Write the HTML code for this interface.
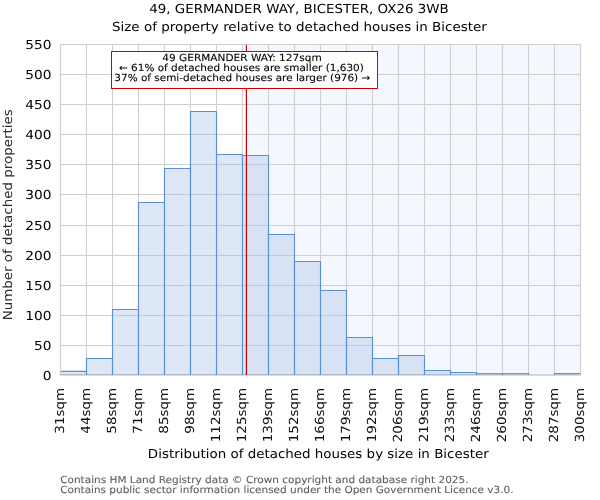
<!DOCTYPE html>
<html><head><meta charset="utf-8"><title>Size of property relative to detached houses in Bicester</title>
<style>html,body{margin:0;padding:0;background:#fff;width:600px;height:500px;overflow:hidden;}
svg text{font-kerning:normal;text-rendering:geometricPrecision;}</style></head>
<body>
<svg width="600" height="500" viewBox="0 0 600 500" style="position:absolute;left:0;top:0">
<rect x="0" y="0" width="600" height="500" fill="#ffffff"/>
<rect x="246.4" y="44.5" width="334.1" height="330.5" fill="#f4f8fe"/>
<line x1="60.5" y1="44.5" x2="580.5" y2="44.5" stroke="#cfcfcf" stroke-width="1.1"/>
<line x1="60.5" y1="74.5" x2="580.5" y2="74.5" stroke="#cfcfcf" stroke-width="1.1"/>
<line x1="60.5" y1="104.5" x2="580.5" y2="104.5" stroke="#cfcfcf" stroke-width="1.1"/>
<line x1="60.5" y1="134.5" x2="580.5" y2="134.5" stroke="#cfcfcf" stroke-width="1.1"/>
<line x1="60.5" y1="164.5" x2="580.5" y2="164.5" stroke="#cfcfcf" stroke-width="1.1"/>
<line x1="60.5" y1="194.5" x2="580.5" y2="194.5" stroke="#cfcfcf" stroke-width="1.1"/>
<line x1="60.5" y1="225.5" x2="580.5" y2="225.5" stroke="#cfcfcf" stroke-width="1.1"/>
<line x1="60.5" y1="255.5" x2="580.5" y2="255.5" stroke="#cfcfcf" stroke-width="1.1"/>
<line x1="60.5" y1="285.5" x2="580.5" y2="285.5" stroke="#cfcfcf" stroke-width="1.1"/>
<line x1="60.5" y1="315.5" x2="580.5" y2="315.5" stroke="#cfcfcf" stroke-width="1.1"/>
<line x1="60.5" y1="345.5" x2="580.5" y2="345.5" stroke="#cfcfcf" stroke-width="1.1"/>
<line x1="60.5" y1="44.5" x2="60.5" y2="375.0" stroke="#cfcfcf" stroke-width="1.1"/>
<line x1="86.5" y1="44.5" x2="86.5" y2="375.0" stroke="#cfcfcf" stroke-width="1.1"/>
<line x1="112.5" y1="44.5" x2="112.5" y2="375.0" stroke="#cfcfcf" stroke-width="1.1"/>
<line x1="138.5" y1="44.5" x2="138.5" y2="375.0" stroke="#cfcfcf" stroke-width="1.1"/>
<line x1="164.5" y1="44.5" x2="164.5" y2="375.0" stroke="#cfcfcf" stroke-width="1.1"/>
<line x1="190.5" y1="44.5" x2="190.5" y2="375.0" stroke="#cfcfcf" stroke-width="1.1"/>
<line x1="216.5" y1="44.5" x2="216.5" y2="375.0" stroke="#cfcfcf" stroke-width="1.1"/>
<line x1="242.5" y1="44.5" x2="242.5" y2="375.0" stroke="#cfcfcf" stroke-width="1.1"/>
<line x1="268.5" y1="44.5" x2="268.5" y2="375.0" stroke="#cfcfcf" stroke-width="1.1"/>
<line x1="294.5" y1="44.5" x2="294.5" y2="375.0" stroke="#cfcfcf" stroke-width="1.1"/>
<line x1="320.5" y1="44.5" x2="320.5" y2="375.0" stroke="#cfcfcf" stroke-width="1.1"/>
<line x1="346.5" y1="44.5" x2="346.5" y2="375.0" stroke="#cfcfcf" stroke-width="1.1"/>
<line x1="372.5" y1="44.5" x2="372.5" y2="375.0" stroke="#cfcfcf" stroke-width="1.1"/>
<line x1="398.5" y1="44.5" x2="398.5" y2="375.0" stroke="#cfcfcf" stroke-width="1.1"/>
<line x1="424.5" y1="44.5" x2="424.5" y2="375.0" stroke="#cfcfcf" stroke-width="1.1"/>
<line x1="450.5" y1="44.5" x2="450.5" y2="375.0" stroke="#cfcfcf" stroke-width="1.1"/>
<line x1="476.5" y1="44.5" x2="476.5" y2="375.0" stroke="#cfcfcf" stroke-width="1.1"/>
<line x1="502.5" y1="44.5" x2="502.5" y2="375.0" stroke="#cfcfcf" stroke-width="1.1"/>
<line x1="528.5" y1="44.5" x2="528.5" y2="375.0" stroke="#cfcfcf" stroke-width="1.1"/>
<line x1="554.5" y1="44.5" x2="554.5" y2="375.0" stroke="#cfcfcf" stroke-width="1.1"/>
<line x1="580.5" y1="44.5" x2="580.5" y2="375.0" stroke="#cfcfcf" stroke-width="1.1"/>
<rect x="60.5" y="371.4" width="26.0" height="3.6000000000000227" fill="#a9c1e6" fill-opacity="0.38"/>
<path d="M60.5 374.5V371.4H86.5V374.5Z" fill="none" stroke="#5b8fd4" stroke-width="1.1"/>
<rect x="86.5" y="358.5" width="26.0" height="16.5" fill="#a9c1e6" fill-opacity="0.38"/>
<path d="M86.5 374.5V358.5H112.5V374.5Z" fill="none" stroke="#5b8fd4" stroke-width="1.1"/>
<rect x="112.5" y="309.5" width="26.0" height="65.5" fill="#a9c1e6" fill-opacity="0.38"/>
<path d="M112.5 374.5V309.5H138.5V374.5Z" fill="none" stroke="#5b8fd4" stroke-width="1.1"/>
<rect x="138.5" y="202.5" width="26.0" height="172.5" fill="#a9c1e6" fill-opacity="0.38"/>
<path d="M138.5 374.5V202.5H164.5V374.5Z" fill="none" stroke="#5b8fd4" stroke-width="1.1"/>
<rect x="164.5" y="168.5" width="26.0" height="206.5" fill="#a9c1e6" fill-opacity="0.38"/>
<path d="M164.5 374.5V168.5H190.5V374.5Z" fill="none" stroke="#5b8fd4" stroke-width="1.1"/>
<rect x="190.5" y="111.5" width="26.0" height="263.5" fill="#a9c1e6" fill-opacity="0.38"/>
<path d="M190.5 374.5V111.5H216.5V374.5Z" fill="none" stroke="#5b8fd4" stroke-width="1.1"/>
<rect x="216.5" y="154.5" width="26.0" height="220.5" fill="#a9c1e6" fill-opacity="0.38"/>
<path d="M216.5 374.5V154.5H242.5V374.5Z" fill="none" stroke="#5b8fd4" stroke-width="1.1"/>
<rect x="242.5" y="155.5" width="26.0" height="219.5" fill="#a9c1e6" fill-opacity="0.38"/>
<path d="M242.5 374.5V155.5H268.5V374.5Z" fill="none" stroke="#5b8fd4" stroke-width="1.1"/>
<rect x="268.5" y="234.5" width="26.0" height="140.5" fill="#a9c1e6" fill-opacity="0.38"/>
<path d="M268.5 374.5V234.5H294.5V374.5Z" fill="none" stroke="#5b8fd4" stroke-width="1.1"/>
<rect x="294.5" y="261.5" width="26.0" height="113.5" fill="#a9c1e6" fill-opacity="0.38"/>
<path d="M294.5 374.5V261.5H320.5V374.5Z" fill="none" stroke="#5b8fd4" stroke-width="1.1"/>
<rect x="320.5" y="290.5" width="26.0" height="84.5" fill="#a9c1e6" fill-opacity="0.38"/>
<path d="M320.5 374.5V290.5H346.5V374.5Z" fill="none" stroke="#5b8fd4" stroke-width="1.1"/>
<rect x="346.5" y="337.5" width="26.0" height="37.5" fill="#a9c1e6" fill-opacity="0.38"/>
<path d="M346.5 374.5V337.5H372.5V374.5Z" fill="none" stroke="#5b8fd4" stroke-width="1.1"/>
<rect x="372.5" y="358.5" width="26.0" height="16.5" fill="#a9c1e6" fill-opacity="0.38"/>
<path d="M372.5 374.5V358.5H398.5V374.5Z" fill="none" stroke="#5b8fd4" stroke-width="1.1"/>
<rect x="398.5" y="355.5" width="26.0" height="19.5" fill="#a9c1e6" fill-opacity="0.38"/>
<path d="M398.5 374.5V355.5H424.5V374.5Z" fill="none" stroke="#5b8fd4" stroke-width="1.1"/>
<rect x="424.5" y="370.5" width="26.0" height="4.5" fill="#a9c1e6" fill-opacity="0.38"/>
<path d="M424.5 374.5V370.5H450.5V374.5Z" fill="none" stroke="#5b8fd4" stroke-width="1.1"/>
<rect x="450.5" y="372.5" width="26.0" height="2.5" fill="#a9c1e6" fill-opacity="0.38"/>
<path d="M450.5 374.5V372.5H476.5V374.5Z" fill="none" stroke="#5b8fd4" stroke-width="1.1"/>
<rect x="476.5" y="373.7" width="26.0" height="1.3000000000000114" fill="#a9c1e6" fill-opacity="0.38"/>
<path d="M476.5 374.5V373.7H502.5V374.5Z" fill="none" stroke="#5b8fd4" stroke-width="1.1"/>
<rect x="502.5" y="373.7" width="26.0" height="1.3000000000000114" fill="#a9c1e6" fill-opacity="0.38"/>
<path d="M502.5 374.5V373.7H528.5V374.5Z" fill="none" stroke="#5b8fd4" stroke-width="1.1"/>
<rect x="554.5" y="373.6" width="26.0" height="1.3999999999999773" fill="#a9c1e6" fill-opacity="0.38"/>
<path d="M554.5 374.5V373.6H580.5V374.5Z" fill="none" stroke="#5b8fd4" stroke-width="1.1"/>
<line x1="246.4" y1="45.0" x2="246.4" y2="375.0" stroke="#cc0000" stroke-width="1.2"/>
<path d="M60.5 374.6V44.5H580.5V374.6" fill="none" stroke="#cfcfcf" stroke-width="1.1"/>
<line x1="60.0" y1="374.5" x2="581.0" y2="374.5" stroke="#c8c8c8" stroke-opacity="0.8" stroke-width="1"/>
<line x1="60.0" y1="375.5" x2="581.0" y2="375.5" stroke="#dadada" stroke-width="1"/>
<line x1="86.5" y1="373.5" x2="86.5" y2="375" stroke="#5b8fd4" stroke-width="1.1"/>
<line x1="112.5" y1="373.5" x2="112.5" y2="375" stroke="#5b8fd4" stroke-width="1.1"/>
<line x1="138.5" y1="373.5" x2="138.5" y2="375" stroke="#5b8fd4" stroke-width="1.1"/>
<line x1="164.5" y1="373.5" x2="164.5" y2="375" stroke="#5b8fd4" stroke-width="1.1"/>
<line x1="190.5" y1="373.5" x2="190.5" y2="375" stroke="#5b8fd4" stroke-width="1.1"/>
<line x1="216.5" y1="373.5" x2="216.5" y2="375" stroke="#5b8fd4" stroke-width="1.1"/>
<line x1="242.5" y1="373.5" x2="242.5" y2="375" stroke="#5b8fd4" stroke-width="1.1"/>
<line x1="268.5" y1="373.5" x2="268.5" y2="375" stroke="#5b8fd4" stroke-width="1.1"/>
<line x1="294.5" y1="373.5" x2="294.5" y2="375" stroke="#5b8fd4" stroke-width="1.1"/>
<line x1="320.5" y1="373.5" x2="320.5" y2="375" stroke="#5b8fd4" stroke-width="1.1"/>
<line x1="346.5" y1="373.5" x2="346.5" y2="375" stroke="#5b8fd4" stroke-width="1.1"/>
<line x1="372.5" y1="373.5" x2="372.5" y2="375" stroke="#5b8fd4" stroke-width="1.1"/>
<line x1="398.5" y1="373.5" x2="398.5" y2="375" stroke="#5b8fd4" stroke-width="1.1"/>
<line x1="424.5" y1="373.5" x2="424.5" y2="375" stroke="#5b8fd4" stroke-width="1.1"/>
<line x1="450.5" y1="373.5" x2="450.5" y2="375" stroke="#5b8fd4" stroke-width="1.1"/>
<line x1="476.5" y1="373.5" x2="476.5" y2="375" stroke="#5b8fd4" stroke-width="1.1"/>
<line x1="502.5" y1="373.5" x2="502.5" y2="375" stroke="#5b8fd4" stroke-width="1.1"/>
<line x1="528.5" y1="373.5" x2="528.5" y2="375" stroke="#5b8fd4" stroke-width="1.1"/>
<line x1="554.5" y1="373.5" x2="554.5" y2="375" stroke="#5b8fd4" stroke-width="1.1"/>
<line x1="246.4" y1="373.5" x2="246.4" y2="375" stroke="#cc0000" stroke-width="1.2"/>
<rect x="111.5" y="51.5" width="266" height="37" fill="#ffffff" stroke="#cc0000" stroke-width="1"/>
<g font-family='"DejaVu Sans", "Liberation Sans", sans-serif'>
<text transform="translate(299.0 13.0) scale(1.073 1)" font-size="12.5" text-anchor="middle">49, GERMANDER WAY, BICESTER, OX26 3WB</text>
<text transform="translate(299.4 30.8) scale(1.078 1)" font-size="12.5" text-anchor="middle">Size of property relative to detached houses in Bicester</text>
<text transform="translate(51.6 48.9) scale(1.1 1)" font-size="12.5" text-anchor="end">550</text>
<text transform="translate(51.6 78.9) scale(1.1 1)" font-size="12.5" text-anchor="end">500</text>
<text transform="translate(51.6 108.9) scale(1.1 1)" font-size="12.5" text-anchor="end">450</text>
<text transform="translate(51.6 138.9) scale(1.1 1)" font-size="12.5" text-anchor="end">400</text>
<text transform="translate(51.6 168.9) scale(1.1 1)" font-size="12.5" text-anchor="end">350</text>
<text transform="translate(51.6 198.9) scale(1.1 1)" font-size="12.5" text-anchor="end">300</text>
<text transform="translate(51.6 229.8) scale(1.1 1)" font-size="12.5" text-anchor="end">250</text>
<text transform="translate(51.6 259.8) scale(1.1 1)" font-size="12.5" text-anchor="end">200</text>
<text transform="translate(51.6 289.9) scale(1.1 1)" font-size="12.5" text-anchor="end">150</text>
<text transform="translate(51.6 319.9) scale(1.1 1)" font-size="12.5" text-anchor="end">100</text>
<text transform="translate(51.6 349.9) scale(1.1 1)" font-size="12.5" text-anchor="end">50</text>
<text transform="translate(51.6 379.9) scale(1.1 1)" font-size="12.5" text-anchor="end">0</text>
<text transform="translate(64.1 387.8) rotate(-90) scale(1.078 1)" font-size="12.5" text-anchor="end" fill="#111">31sqm</text>
<text transform="translate(90.1 387.8) rotate(-90) scale(1.078 1)" font-size="12.5" text-anchor="end" fill="#111">44sqm</text>
<text transform="translate(116.1 387.8) rotate(-90) scale(1.078 1)" font-size="12.5" text-anchor="end" fill="#111">58sqm</text>
<text transform="translate(142.1 387.8) rotate(-90) scale(1.078 1)" font-size="12.5" text-anchor="end" fill="#111">71sqm</text>
<text transform="translate(168.1 387.8) rotate(-90) scale(1.078 1)" font-size="12.5" text-anchor="end" fill="#111">85sqm</text>
<text transform="translate(194.1 387.8) rotate(-90) scale(1.078 1)" font-size="12.5" text-anchor="end" fill="#111">98sqm</text>
<text transform="translate(220.1 387.8) rotate(-90) scale(1.078 1)" font-size="12.5" text-anchor="end" fill="#111">112sqm</text>
<text transform="translate(246.1 387.8) rotate(-90) scale(1.078 1)" font-size="12.5" text-anchor="end" fill="#111">125sqm</text>
<text transform="translate(272.1 387.8) rotate(-90) scale(1.078 1)" font-size="12.5" text-anchor="end" fill="#111">139sqm</text>
<text transform="translate(298.1 387.8) rotate(-90) scale(1.078 1)" font-size="12.5" text-anchor="end" fill="#111">152sqm</text>
<text transform="translate(324.1 387.8) rotate(-90) scale(1.078 1)" font-size="12.5" text-anchor="end" fill="#111">166sqm</text>
<text transform="translate(350.1 387.8) rotate(-90) scale(1.078 1)" font-size="12.5" text-anchor="end" fill="#111">179sqm</text>
<text transform="translate(376.1 387.8) rotate(-90) scale(1.078 1)" font-size="12.5" text-anchor="end" fill="#111">192sqm</text>
<text transform="translate(402.1 387.8) rotate(-90) scale(1.078 1)" font-size="12.5" text-anchor="end" fill="#111">206sqm</text>
<text transform="translate(428.1 387.8) rotate(-90) scale(1.078 1)" font-size="12.5" text-anchor="end" fill="#111">219sqm</text>
<text transform="translate(454.1 387.8) rotate(-90) scale(1.078 1)" font-size="12.5" text-anchor="end" fill="#111">233sqm</text>
<text transform="translate(480.1 387.8) rotate(-90) scale(1.078 1)" font-size="12.5" text-anchor="end" fill="#111">246sqm</text>
<text transform="translate(506.1 387.8) rotate(-90) scale(1.078 1)" font-size="12.5" text-anchor="end" fill="#111">260sqm</text>
<text transform="translate(532.1 387.8) rotate(-90) scale(1.078 1)" font-size="12.5" text-anchor="end" fill="#111">273sqm</text>
<text transform="translate(558.1 387.8) rotate(-90) scale(1.078 1)" font-size="12.5" text-anchor="end" fill="#111">287sqm</text>
<text transform="translate(584.1 387.8) rotate(-90) scale(1.078 1)" font-size="12.5" text-anchor="end" fill="#111">300sqm</text>
<text transform="translate(318.3 457.8) scale(1.074 1)" font-size="12.5" text-anchor="middle">Distribution of detached houses by size in Bicester</text>
<text transform="translate(12.0 214.8) rotate(-90) scale(1.074 1)" font-size="12.5" text-anchor="middle" fill="#2a2a2a">Number of detached properties</text>
<text transform="translate(242.0 61.0) scale(1.085 1)" font-size="9.72" text-anchor="middle" stroke="#000" stroke-width="0.1">49 GERMANDER WAY: 127sqm</text>
<text transform="translate(241.4 71.1) scale(1.075 1)" font-size="9.72" text-anchor="middle" stroke="#000" stroke-width="0.1">← 61% of detached houses are smaller (1,630)</text>
<text transform="translate(242.3 81.2) scale(1.076 1)" font-size="9.72" text-anchor="middle" stroke="#000" stroke-width="0.1">37% of semi-detached houses are larger (976) →</text>
<text transform="translate(60.2 482.7) scale(1.08 1)" font-size="9.72" text-anchor="start" fill="#5c5c5c" textLength="378.06" lengthAdjust="spacing" stroke="#5c5c5c" stroke-width="0.08">Contains HM Land Registry data © Crown copyright and database right 2025.</text>
<text transform="translate(60.2 492.7) scale(1.08 1)" font-size="9.72" text-anchor="start" fill="#5c5c5c" textLength="419.72" lengthAdjust="spacing" stroke="#5c5c5c" stroke-width="0.08">Contains public sector information licensed under the Open Government Licence v3.0.</text>
</g>
</svg>
</body></html>
